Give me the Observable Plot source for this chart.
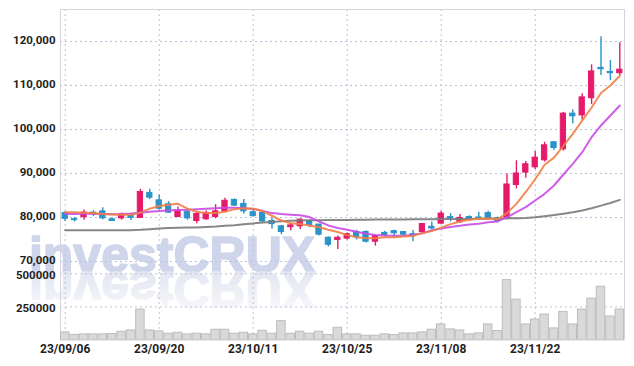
<!DOCTYPE html>
<html><head><meta charset="utf-8">
<script src="https://cdn.jsdelivr.net/npm/d3@7"></script>
<script src="https://cdn.jsdelivr.net/npm/@observablehq/plot@0.6"></script>
<style>
body{margin:0;background:#fff;}
#wrap{position:relative;width:634px;height:366px;background:#fff;}
#wrap svg{position:absolute;left:0;top:0;}
</style></head><body><div id="wrap"></div>
<script>
const dates = ["23/09/06","23/09/07","23/09/08","23/09/11","23/09/12","23/09/13","23/09/14","23/09/15","23/09/18","23/09/19",
"23/09/20","23/09/21","23/09/22","23/09/25","23/09/26","23/09/27","23/10/04","23/10/05","23/10/06","23/10/10",
"23/10/11","23/10/12","23/10/13","23/10/16","23/10/17","23/10/18","23/10/19","23/10/20","23/10/23","23/10/24",
"23/10/25","23/10/26","23/10/27","23/10/30","23/10/31","23/11/01","23/11/02","23/11/03","23/11/06","23/11/07",
"23/11/08","23/11/09","23/11/10","23/11/13","23/11/14","23/11/15","23/11/16","23/11/17","23/11/20","23/11/21",
"23/11/22","23/11/23","23/11/24","23/11/27","23/11/28","23/11/29","23/11/30","23/12/01","23/12/04","23/12/05"];
const open = [81000,79600,80100,81100,81400,79600,79800,80500,79900,85600,
83900,83000,80100,81300,79200,79600,80100,81400,84000,83100,
81200,81100,79200,78000,77800,78000,79200,78400,75400,74900,
75200,76700,76700,74500,76500,76900,76700,76200,76700,77900,
78600,80100,78900,80100,80000,81000,79800,79900,87400,90200,
91400,93000,97100,95500,103600,103200,107100,114000,113100,112800];
const high = [81300,80000,81700,81500,82200,79900,81000,80900,86400,86400,
85100,83600,82400,81700,81300,81500,82900,84400,84200,84100,
82100,81100,79900,78200,78600,79700,79500,78400,75600,75800,
76500,77100,77000,76000,76900,77100,76700,77100,78600,79000,
81400,80900,80700,80400,81200,81400,80100,89900,92900,92700,
95000,97100,97200,103900,104500,108100,114700,121100,115700,119700];
const low = [79100,79000,79400,80200,79500,79100,79400,79300,79900,84100,
81700,80900,80000,79400,78600,79300,79700,81100,82500,80800,
80100,78900,77400,76100,77000,77300,77700,75800,73300,72700,
74900,74900,74200,73500,75500,75500,75800,74500,76500,77300,
78500,79000,78800,79200,79500,79500,78800,79900,86500,88900,
90900,92600,95200,95100,101300,102100,105700,112300,111100,112300];
const close = [79700,79400,81100,80700,79800,79200,80700,79900,85800,84500,
82000,81100,81600,79800,80800,81000,81400,83800,82700,81400,
80300,79100,78500,76700,78200,79500,78200,76100,73800,75400,
76200,75500,74500,75800,76000,76400,76100,75800,78500,77500,
80900,79800,79900,79400,79700,79900,79200,87500,90000,92100,
93600,96400,95800,103600,103000,107300,113200,113700,112800,113600];
const volume = [57500,37500,42500,42500,42500,45000,62500,72500,230000,72500,
65000,47500,55000,42500,47500,42500,77500,77500,47500,55000,
42500,70000,47500,142500,47500,62500,47500,62500,37500,92500,
42500,42500,32500,32500,42500,37500,50000,50000,57500,77500,
117500,80000,72500,42500,50000,117500,67500,452500,305000,117500,
155000,192500,87500,212500,117500,230000,312500,402500,177500,230000];
const ma5 = [81200,81200,81100,81000,80800,80700,80600,80600,81100,82000,
82600,82900,83100,82000,81300,81000,81000,81300,81900,82100,
82000,81500,80400,79300,78700,78500,78200,77800,77200,76700,
76000,75500,75300,75300,75500,75500,75700,75800,76500,76900,
77700,78500,79100,79500,79700,79800,79600,81000,83100,85800,
88700,92000,93600,96300,99000,102000,105000,108300,110000,112200];
const ma20 = [80830,80800,80830,80850,80800,80750,80800,80900,81100,81300,
81500,81600,81700,81750,81900,82000,82100,82200,82200,82100,
81950,81500,81000,80800,80650,80500,80100,79100,78200,77600,
77200,76750,76300,76050,75900,75850,75850,76050,76400,77100,
77500,77850,78100,78400,78600,78900,79100,80080,81210,82350,
83860,85380,87270,89770,92200,94850,98260,100910,103180,105450];
const ma60 = [77100,77100,77100,77100,77100,77100,77100,77100,77200,77350,
77500,77600,77650,77700,77750,77850,77950,78100,78250,78450,
78650,78850,79000,79150,79250,79300,79350,79400,79420,79440,
79460,79480,79500,79520,79540,79550,79570,79590,79610,79630,
79650,79660,79670,79680,79690,79700,79750,79800,79850,79900,
80050,80300,80550,80850,81200,81600,82100,82700,83300,84000];
const tickLabels = ["23/09/06","23/09/20","23/10/11","23/10/25","23/11/08","23/11/22"];
const priceTicks = [70000,80000,90000,100000,110000,120000];
const volumeTicks = [250000,500000];

const UP = "#e6196a", DOWN = "#2a93c9";
const data = dates.map((d,i)=>({i, date:d, o:open[i], h:high[i], l:low[i], c:close[i], v:volume[i], ma5:ma5[i], ma20:ma20[i], ma60:ma60[i]}));
const xDomain = [-0.5, dates.length - 0.5];
const tickIdx = tickLabels.map(t => dates.indexOf(t));
const W = 634, H = 366;
const axisFont = {fontFamily:"Roboto, 'DejaVu Sans Condensed', sans-serif", fontSize:11.5, fontWeight:"bold", fill:"#1e1e1e"};
const grid = {stroke:"#bcc1da", strokeOpacity:1, strokeDasharray:"2,3", strokeWidth:1};
const frameStroke = "#d4d5de";

const price = Plot.plot({
  width:W, height:H, marginTop:9, marginBottom:94, marginLeft:60, marginRight:10,
  style:{background:"transparent"},
  x:{domain:xDomain, axis:null},
  y:{domain:[67500,127273], axis:null},
  marks:[
    Plot.gridY(priceTicks, grid),
    Plot.gridX(tickIdx, grid),
    Plot.axisY(priceTicks, {...axisFont, label:null, tickSize:0, tickPadding:5, dy:-1.5, tickFormat:d3.format(",")}),
    Plot.ruleX(xDomain, {stroke:frameStroke}),
    Plot.ruleY([127273], {stroke:frameStroke}),
    Plot.ruleX(data, {filter:d=>d.c>=d.o, x:"i", y1:"l", y2:"h", stroke:UP, strokeWidth:1.4}),
    Plot.ruleX(data, {filter:d=>d.c<d.o, x:"i", y1:"l", y2:"h", stroke:DOWN, strokeWidth:1.4}),
    Plot.rect(data, {filter:d=>d.c>=d.o, x1:d=>d.i-0.28, x2:d=>d.i+0.28, y1:"o", y2:"c", fill:UP, stroke:UP, strokeWidth:1}),
    Plot.rect(data, {filter:d=>d.c<d.o, x1:d=>d.i-0.28, x2:d=>d.i+0.28, y1:"o", y2:"c", fill:DOWN, stroke:DOWN, strokeWidth:1}),
    Plot.line(data, {x:"i", y:"ma60", stroke:"#7a7a7a", strokeWidth:2, strokeOpacity:0.9}),
    Plot.line(data, {x:"i", y:"ma20", stroke:"#c94de6", strokeWidth:2, strokeOpacity:0.9}),
    Plot.line(data, {x:"i", y:"ma5", stroke:"#ef8046", strokeWidth:2, strokeOpacity:0.9})
  ]
});

const vol = Plot.plot({
  width:W, height:H, marginTop:272, marginBottom:26.5, marginLeft:60, marginRight:10,
  style:{background:"transparent"},
  x:{domain:xDomain, axis:null},
  y:{domain:[0,510000], axis:null},
  marks:[
    Plot.gridY(volumeTicks, grid),
    Plot.gridX(tickIdx, grid),
    Plot.axisY(volumeTicks, {...axisFont, label:null, tickSize:0, tickPadding:5, dy:1.5, tickFormat:d=>String(d)}),
    Plot.axisX(tickIdx, {...axisFont, fontSize:12, label:null, tickSize:0, tickPadding:4, tickFormat:i=>dates[i]}),
    Plot.ruleX(xDomain, {stroke:frameStroke}),
    Plot.rect(data, {x1:d=>d.i-0.45, x2:d=>d.i+0.45, y1:0, y2:"v", fill:"#d9d9d9", stroke:"#bdbdbd", strokeWidth:1}),
    Plot.ruleY([0], {stroke:frameStroke})
  ]
});

const wrap = document.getElementById("wrap");
wrap.appendChild(price);
wrap.appendChild(vol);

// watermark + reflection
const wm = {x:172, y:272, size:50};
d3.select(price).insert("text", "g")
  .attr("x", wm.x).attr("y", wm.y)
  .attr("font-family", "'Liberation Sans', Arial, sans-serif")
  .attr("font-weight", "bold").attr("font-size", wm.size)
  .attr("fill", "#cfd5ea").attr("stroke", "#cfd5ea").attr("stroke-width", 1.6)
  .attr("stroke-linejoin", "round").text("investCRUX");
const vsvg = d3.select(vol);
const defs = vsvg.insert("defs", "g");
const lg = defs.append("linearGradient").attr("id","wmfade").attr("x1",0).attr("y1",0).attr("x2",0).attr("y2",1);
lg.append("stop").attr("offset","0%").attr("stop-color","#fbfbfd").attr("stop-opacity",1);
lg.append("stop").attr("offset","100%").attr("stop-color","#dde1ee").attr("stop-opacity",1);
vsvg.insert("text", "g")
  .attr("x", wm.x).attr("y", wm.y)
  .attr("transform", `translate(0,${2*wm.y}) scale(1,-1)`)
  .attr("font-family", "'Liberation Sans', Arial, sans-serif")
  .attr("font-weight", "bold").attr("font-size", wm.size)
  .attr("fill", "url(#wmfade)").attr("stroke", "url(#wmfade)").attr("stroke-width", 1.6)
  .text("investCRUX");
</script></body></html>
